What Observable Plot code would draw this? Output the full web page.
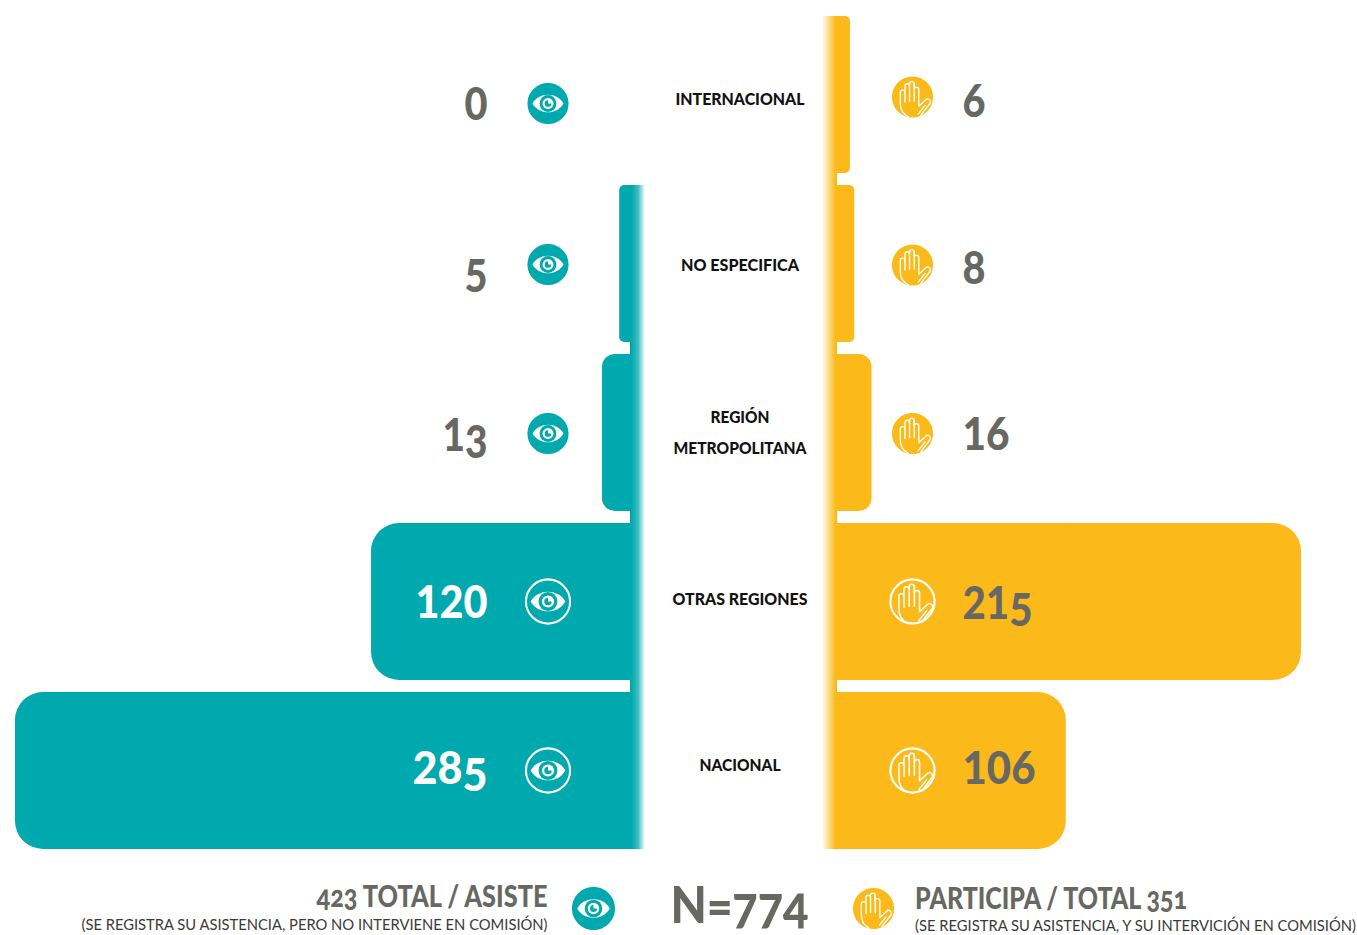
<!DOCTYPE html>
<html><head><meta charset="utf-8">
<script src="https://cdn.jsdelivr.net/npm/d3@7"></script>
<script src="https://cdn.jsdelivr.net/npm/@observablehq/plot@0.6"></script>
<style>html,body{margin:0;padding:0;background:#fff}svg{display:block}</style>
</head><body><div id="chart"></div>
<script>
const categories = ["INTERNACIONAL","NO ESPECIFICA","REGIÓN\nMETROPOLITANA","OTRAS REGIONES","NACIONAL"];
const asiste = [0,5,13,120,285];
const participa = [6,8,16,215,106];
const totalAsiste = 423, totalParticipa = 351, totalN = 774;

const TEAL="#00a9ae", GOLD="#fbba19", GREY="#686863", INK="#111111", SUB="#3a3a38";
const FONT="Lato,'Liberation Sans',sans-serif";
const UNIT=2.158, ZERO=630, GAP=207/UNIT;
const rows=categories.map((c,i)=>({c,i,a:asiste[i],p:participa[i]}));
const radius=[5,5,13,28,28];
const eyeDy=[8.5,0.5,0.5,-0.5,-0.5], handDy=[2,1,0.5,-0.5,-0.5];
const aNumDy=[10.5,6,3,1,-2], pNumDy=[7,5,2,2,-2];
const labelDy=[0,-3,-4,-7,-10];

function eye(disc,ring){
  const s=`<svg xmlns="http://www.w3.org/2000/svg" viewBox="0 0 100 100">`+
   (disc?`<circle cx="50" cy="50" r="49" fill="${disc}"/>`:`<circle cx="50" cy="50" r="47" fill="none" stroke="#fff" stroke-width="4.5"/>`)+
   `<path d="M13 50C28 22 72 22 87 50C72 78 28 78 13 50Z" fill="#fff"/>`+
   `<circle cx="50" cy="50" r="20" fill="${ring}"/><circle cx="50" cy="50" r="13" fill="#fff"/>`+
   `<path d="M50 42A8 8 0 1 0 58 50L50 50Z" fill="${ring}"/></svg>`;
  return "data:image/svg+xml,"+encodeURIComponent(s);
}
function hand(disc){
  const s=`<svg xmlns="http://www.w3.org/2000/svg" viewBox="0 0 100 100">`+
   (disc?`<circle cx="50" cy="50" r="49" fill="${disc}"/>`:`<circle cx="50" cy="50" r="47" fill="none" stroke="#fff" stroke-width="4.5"/>`)+
   `<g fill="none" stroke="#fff" stroke-width="3.2" stroke-linecap="round" stroke-linejoin="round">`+
   `<path d="M40 97C27 91 21 80 21 65V39A5.5 5.5 0 0 1 32 39V24A5.5 5.5 0 0 1 43 24V19A5.5 5.5 0 0 1 54 19V32A5.5 5.5 0 0 1 65 32V72L81 57A6.5 6.5 0 0 1 91 66L70 93"/>`+
   `<path d="M32 39V62M43 24V60M54 19V60M80 70L64 90"/></g></svg>`;
  return "data:image/svg+xml,"+encodeURIComponent(s);
}
const defs=()=>{
  const d=d3.create("svg:defs");
  const t=d.append("linearGradient").attr("id","fadeT");
  [[0.1,1],[0.55,0.75],[1,0]].forEach(([o,a])=>t.append("stop").attr("offset",o).attr("stop-color",TEAL).attr("stop-opacity",a));
  const g=d.append("linearGradient").attr("id","fadeG");
  [[0,0.1],[0.5,0.6],[0.9,1]].forEach(([o,a])=>g.append("stop").attr("offset",o).attr("stop-color",GOLD).attr("stop-opacity",a));
  return d.node();
};
const xL=d=>-d.a, xR=d=>GAP+d.p;
const marks=[defs];
rows.forEach(r=>{
  if(r.a>0){
    marks.push(Plot.barX([r],{x1:xL,x2:()=>0,y:"c",fill:TEAL,rx:radius[r.i],ry:radius[r.i]}));
    marks.push(Plot.barX([r],{x1:d=>-d.a/2,x2:()=>0,y:"c",fill:TEAL}));
  }
  marks.push(Plot.barX([r],{x1:()=>GAP,x2:xR,y:"c",fill:GOLD,rx:radius[r.i],ry:radius[r.i]}));
  marks.push(Plot.barX([r],{x1:()=>GAP,x2:d=>GAP+d.p/2,y:"c",fill:GOLD}));
  const below=r.i<rows.length-1?-12:0;
  if(r.i>0) marks.push(Plot.barX([r],{x1:()=>0,x2:()=>15/UNIT,y:"c",fill:"url(#fadeT)",insetBottom:below}));
  marks.push(Plot.barX([r],{x1:()=>GAP-14/UNIT,x2:()=>GAP,y:"c",fill:"url(#fadeG)",insetBottom:below}));
  const big=r.i>=3;
  marks.push(Plot.image([r],{x:()=>0,y:"c",dx:-82.5,dy:eyeDy[r.i],width:big?47:42,height:big?47:42,src:big?eye(null,TEAL):eye(TEAL,TEAL)}));
  marks.push(Plot.image([r],{x:()=>GAP,y:"c",dx:75,dy:handDy[r.i],width:big?47:42,height:big?47:42,src:big?hand(null):hand(GOLD)}));
  marks.push(Plot.text([r],{x:()=>0,y:"c",text:d=>String(d.a),dx:-143,dy:aNumDy[r.i],textAnchor:"end",fontFamily:FONT,fontWeight:900,fontSize:46,fill:big?"#fff":GREY}));
  marks.push(Plot.text([r],{x:()=>GAP,y:"c",text:d=>String(d.p),dx:125,dy:pNumDy[r.i],textAnchor:"start",fontFamily:FONT,fontWeight:900,fontSize:46,fill:GREY}));
  marks.push(Plot.text([r],{x:()=>0,y:"c",text:"c",dx:109.5,dy:labelDy[r.i],textAnchor:"middle",fontFamily:FONT,fontWeight:900,fontSize:17,lineHeight:1.82,fill:INK}));
});
const foot=(t,dx,dy,size,anchor,weight,fill)=>Plot.text([t],{frameAnchor:"top-left",lineAnchor:"middle",text:d=>d,dx,dy,fontSize:size,textAnchor:anchor,fontFamily:FONT,fontWeight:weight,fill});
const line1L=`${totalAsiste} TOTAL / ASISTE`, line2L="(SE REGISTRA SU ASISTENCIA, PERO NO INTERVIENE EN COMISIÓN)";
const line1R=`PARTICIPA / TOTAL ${totalParticipa}`, line2R="(SE REGISTRA SU ASISTENCIA, Y SU INTERVICIÓN EN COMISIÓN)";
const lineN=`N=${totalN}`;
marks.push(foot(line1L,547,897,30,"end",900,GREY));
marks.push(foot(line2L,547,924.5,15.5,"end",400,SUB));
marks.push(foot(line1R,914.5,899,30,"start",900,GREY));
marks.push(foot(line2R,914.5,926,15.5,"start",400,SUB));
marks.push(foot(lineN,739,906,52,"middle",900,GREY));
marks.push(Plot.image([0],{frameAnchor:"top-left",dx:593,dy:908,width:44,height:44,src:eye(TEAL,TEAL)}));
marks.push(Plot.image([0],{frameAnchor:"top-left",dx:873,dy:908,width:42,height:42,src:hand(GOLD)}));

const svg=Plot.plot({
  width:1357,height:935,margin:0,
  style:{background:"#fff",overflow:"visible"},
  x:{domain:[-ZERO/UNIT,(1357-ZERO)/UNIT],range:[0,1357],axis:null},
  y:{type:"band",domain:categories,range:[16,849],paddingInner:12/169,paddingOuter:0,round:false,axis:null},
  marks
});
const widths=new Map([[line1L,231],[line2L,466],[line1R,272],[line2R,441],[lineN,138],
  ["INTERNACIONAL",129],["NO ESPECIFICA",118],["OTRAS REGIONES",135],["NACIONAL",81],["REGIÓN",59],["METROPOLITANA",133],
  ["0",23],["5",23],["13",45],["120",72],["285",75],["6",23],["8",23],["16",47],["215",70],["106",73]]);
const footers=new Set([line1L,line1R,lineN]);
const low={"3":0.15,"5":0.15};
const fit=(el,s)=>{if(widths.has(s)){el.setAttribute("textLength",widths.get(s));el.setAttribute("lengthAdjust","spacingAndGlyphs");}};
svg.querySelectorAll("text").forEach(t=>{
  const s=t.textContent;
  if(s==="REGIÓNMETROPOLITANA"){t.querySelectorAll("tspan").forEach(sp=>fit(sp,sp.textContent));return;}
  fit(t,s);
  if(footers.has(s)){t.style.fontFeatureSettings='"onum"';return;}
  if(/^[0-9]*[35][0-9]*$/.test(s)){
    const holder=t.querySelector("tspan")||t;
    holder.textContent="";
    let shift=0, run="", pending=0;
    const flush=()=>{
      if(!run) return;
      const sp=document.createElementNS("http://www.w3.org/2000/svg","tspan");
      sp.textContent=run;
      if(pending) sp.setAttribute("dy",pending+"em");
      holder.appendChild(sp);
      run="";
    };
    [...s].forEach(ch=>{
      const target=low[ch]||0;
      if(target!==shift){flush();pending=target-shift;shift=target;}
      run+=ch;
    });
    flush();
  }
});
document.getElementById("chart").appendChild(svg);
</script></body></html>
